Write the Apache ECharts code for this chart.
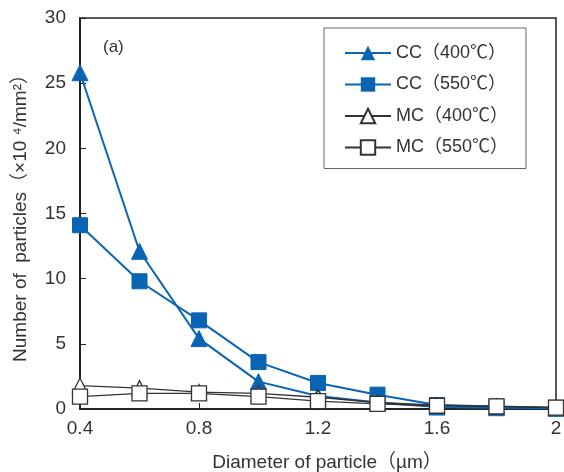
<!DOCTYPE html>
<html>
<head>
<meta charset="utf-8">
<script src="https://cdn.jsdelivr.net/npm/echarts@6/dist/echarts.min.js"></script>
<style>
  html, body { margin: 0; padding: 0; background: #fff; }
  #chart { width: 564px; height: 472px; }
</style>
</head>
<body>
<div id="chart"></div>
<script>
// particle diameter (um)
var diameters = [0.4, 0.6, 0.8, 1.0, 1.2, 1.4, 1.6, 1.8, 2.0];
var cc400 = [25.8, 12.1, 5.4, 2.1, 1.0, 0.5, 0.15, 0.1, 0.05];
var cc550 = [14.1, 9.8, 6.8, 3.6, 2.0, 1.1, 0.3, 0.2, 0.1];
var mc400 = [1.8, 1.6, 1.3, 1.2, 0.9, 0.5, 0.3, 0.2, 0.1];
var mc550 = [0.95, 1.2, 1.2, 0.95, 0.6, 0.4, 0.25, 0.2, 0.1];
var yTicks = [0, 5, 10, 15, 20, 25, 30];

var blue = "#0a64b4";
var dark = "#333";
var font = "Liberation Sans, Arial, Noto Sans CJK JP, sans-serif";

function pairs(vals) {
  return diameters.map(function (d, i) { return [d, vals[i]]; });
}

var chartDom = document.getElementById("chart");
var myChart = echarts.init(chartDom);
var option;

option = {
  animation: false,
  title: {
    text: "(a)",
    left: 98,
    top: 34,
    textStyle: { fontSize: 17, fontWeight: "normal", color: dark, fontFamily: font },
  },
  grid: {
    left: 80,
    right: 8,
    top: 18,
    bottom: 63,
    outerBoundsMode: "none",
    show: true,
    borderColor: "#222",
    borderWidth: 1.5,
  },
  legend: {
    orient: "vertical",
    left: 324,
    top: 28,
    width: 201,
    padding: [16, 18, 12, 20],
    itemWidth: 46,
    itemHeight: 18,
    itemGap: 13.5,
    borderColor: "#666",
    borderWidth: 1,
    textStyle: { fontSize: 18, color: dark, fontFamily: font },
    data: ["CC（400℃）", "CC（550℃）", "MC（400℃）", "MC（550℃）"],
  },
  xAxis: {
    type: "value",
    min: 0.4,
    max: 2,
    interval: 0.4,
    name: "Diameter of particle（µm）",
    nameLocation: "middle",
    nameGap: 44,
    nameTextStyle: { fontSize: 19, color: dark, fontFamily: font, padding: [0, 0, 0, 18] },
    axisLine: { lineStyle: { color: "#222", width: 2 } },
    axisTick: { inside: true, length: 6, lineStyle: { color: "#222" } },
    axisLabel: {
      fontSize: 19,
      color: dark,
      fontFamily: font,
      margin: 10,
      formatter: function (v) { return String(Math.round(v * 10) / 10); },
    },
    splitLine: { show: false },
  },
  yAxis: {
    type: "value",
    min: yTicks[0],
    max: yTicks[yTicks.length - 1],
    interval: 5,
    name: "Number of  particles（×10 ⁴/mm²）",
    nameLocation: "middle",
    nameGap: 50,
    nameTextStyle: { fontSize: 19, color: dark, fontFamily: font },
    axisLine: { lineStyle: { color: "#222", width: 2 } },
    axisTick: { inside: true, length: 6, lineStyle: { color: "#222" } },
    axisLabel: { fontSize: 19, color: dark, fontFamily: font, margin: 14 },
    splitLine: { show: false },
  },
  series: [
    {
      name: "CC（400℃）",
      type: "line",
      data: pairs(cc400),
      symbol: "triangle",
      symbolSize: 16,
      lineStyle: { color: blue, width: 2 },
      itemStyle: { color: blue, borderColor: blue },
    },
    {
      name: "CC（550℃）",
      type: "line",
      data: pairs(cc550),
      symbol: "rect",
      symbolSize: 15,
      lineStyle: { color: blue, width: 2 },
      itemStyle: { color: blue, borderColor: blue },
    },
    {
      name: "MC（400℃）",
      type: "line",
      data: pairs(mc400),
      symbol: "triangle",
      symbolSize: 15,
      lineStyle: { color: dark, width: 1.3 },
      itemStyle: { color: "#fff", borderColor: dark, borderWidth: 1.3 },
    },
    {
      name: "MC（550℃）",
      type: "line",
      data: pairs(mc550),
      symbol: "rect",
      symbolSize: 15,
      lineStyle: { color: dark, width: 1.3 },
      itemStyle: { color: "#fff", borderColor: dark, borderWidth: 1.3 },
    },
  ],
};

option && myChart.setOption(option);
</script>
</body>
</html>
